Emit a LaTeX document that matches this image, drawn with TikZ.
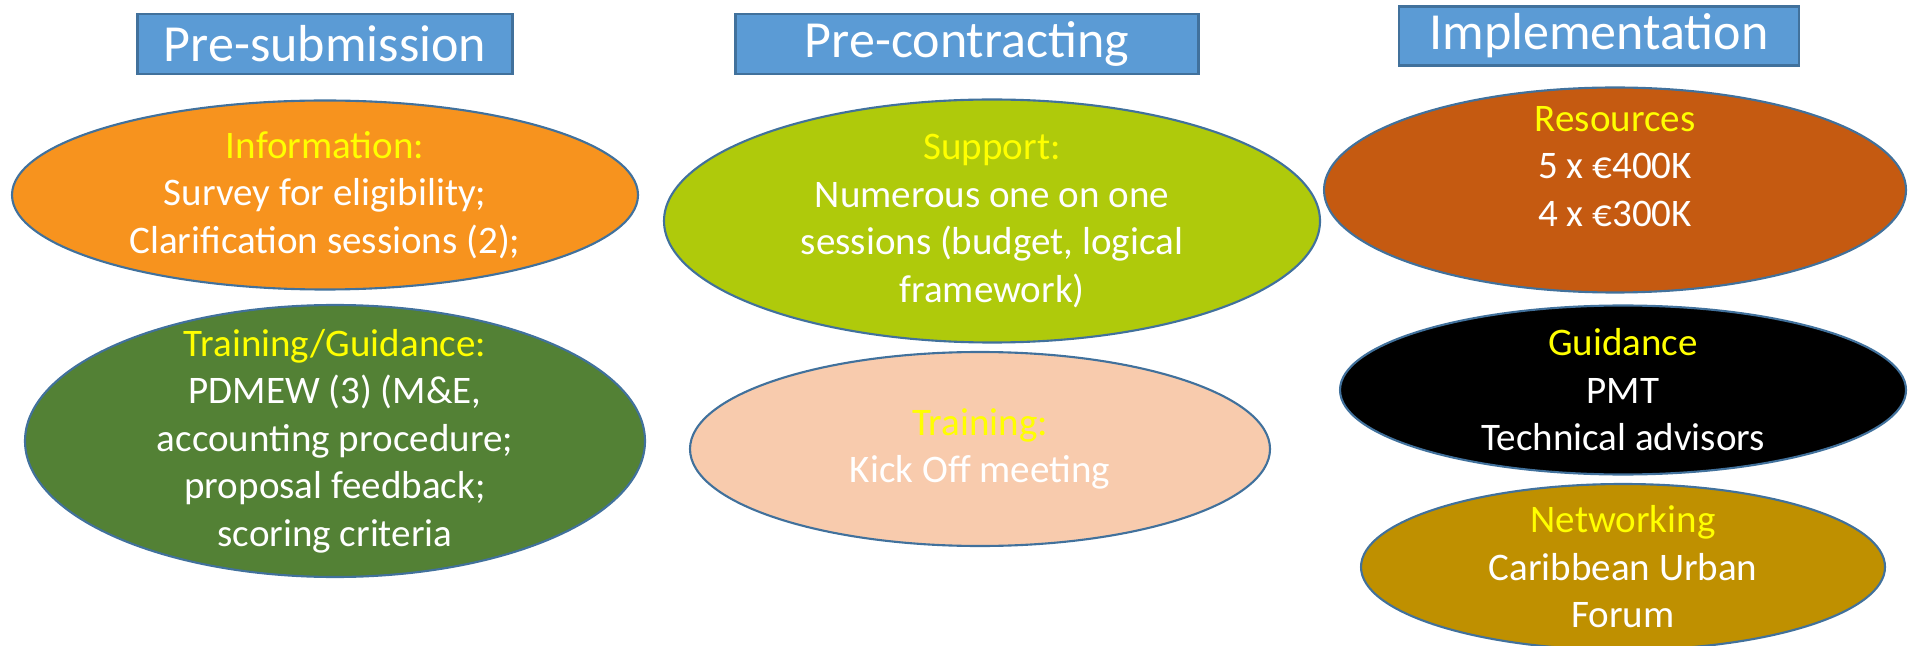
\documentclass[tikz,border=0pt]{standalone}
\usepackage{fontspec}
\setmainfont{Carlito}
\usetikzlibrary{shapes.geometric}
\definecolor{boxblue}{HTML}{5B9BD5}
\definecolor{boxedge}{HTML}{41719C}
\definecolor{elledge}{HTML}{41719C}
\definecolor{corange}{HTML}{F7931E}
\definecolor{cgreen}{HTML}{538135}
\definecolor{clime}{HTML}{AFCA0B}
\definecolor{cpeach}{HTML}{F8CBAD}
\definecolor{crust}{HTML}{C55A11}
\definecolor{cgold}{HTML}{BF9000}
\definecolor{cyel}{HTML}{FFFF00}
\tikzset{
  phasebox/.style={draw=boxedge, line width=0.7pt, fill=boxblue, inner sep=0pt, text=white,
     font=\fontsize{14.8pt}{17pt}\selectfont},
  oval/.style={ellipse, draw=elledge, line width=0.6pt, inner sep=0pt},
  ovaltext/.style={align=center, text=white, inner sep=0pt,
     font=\fontsize{11.1pt}{13.5pt}\selectfont}
}
\begin{document}
\begin{tikzpicture}[x=0.01cm,y=-0.01cm]
\useasboundingbox (0,0) rectangle (1910,646);
% phase boxes
\node[phasebox, minimum width=375*0.01cm, minimum height=60*0.01cm] (pre) at (325,44) {Pre-submission};
\node[phasebox, minimum width=463*0.01cm, minimum height=60*0.01cm] (con) at (967,44) {Pre-contracting};
\node[phasebox, minimum width=400*0.01cm, minimum height=59*0.01cm] (imp) at (1599,36) {Implementation};
% ellipses
\node[oval, fill=corange, minimum width=626*0.01cm, minimum height=189*0.01cm] (info) at (325,195) {};
\node[ovaltext] (infoT) at (info.center) {\textcolor{cyel}{Information:}\\Survey for eligibility;\\Clarification sessions (2);};
\node[oval, fill=cgreen, minimum width=620*0.01cm, minimum height=272*0.01cm] (train) at (335,441) {};
\node[ovaltext] (trainT) at (train.center) {\textcolor{cyel}{Training/Guidance:}\\PDMEW (3) (M\&E,\\accounting procedure;\\proposal feedback;\\scoring criteria};
\node[oval, fill=clime, minimum width=656*0.01cm, minimum height=243*0.01cm] (sup) at (992,221) {};
\node[ovaltext] (supT) at (sup.center) {\textcolor{cyel}{Support:}\\Numerous one on one\\sessions (budget, logical\\framework)};
\node[oval, fill=cpeach, minimum width=580*0.01cm, minimum height=194*0.01cm] (kick) at (980,449) {};
\node[ovaltext] (kickT) at (kick.center) {\textcolor{cyel}{Training:}\\Kick Off meeting};
\node[oval, fill=crust, minimum width=582*0.01cm, minimum height=205*0.01cm] (res) at (1615,190) {};
\node[ovaltext] (resT) at (res.center) {\textcolor{cyel}{Resources}\\5 x €400K\\4 x €300K\\\mbox{}};
\node[oval, fill=black, minimum width=566*0.01cm, minimum height=169*0.01cm] (guid) at (1623,390) {};
\node[ovaltext] (guidT) at (guid.center) {\textcolor{cyel}{Guidance}\\PMT\\Technical advisors};
\node[oval, fill=cgold, minimum width=524*0.01cm, minimum height=166*0.01cm] (net) at (1623,567) {};
\node[ovaltext] (netT) at (net.center) {\textcolor{cyel}{Networking}\\Caribbean Urban\\Forum};
\end{tikzpicture}
\end{document}
